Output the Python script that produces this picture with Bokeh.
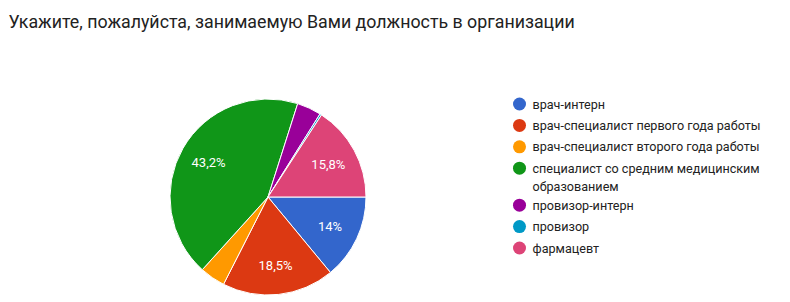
import math
from bokeh.plotting import figure
from bokeh.models import Range1d, ColumnDataSource
from bokeh.core.properties import value
from bokeh.embed import file_html
from bokeh.resources import INLINE

title = "Укажите, пожалуйста, занимаемую Вами должность в организации"
categories = [
    "врач-интерн",
    "врач-специалист первого года работы",
    "врач-специалист второго года работы",
    "специалист со средним медицинским образованием",
    "провизор-интерн",
    "провизор",
    "фармацевт",
]
legend_lines = [
    ["врач-интерн"],
    ["врач-специалист первого года работы"],
    ["врач-специалист второго года работы"],
    ["специалист со средним медицинским", "образованием"],
    ["провизор-интерн"],
    ["провизор"],
    ["фармацевт"],
]
percents = [14.0, 18.5, 4.2, 43.2, 4.0, 0.3, 15.8]
colors = ["#3366cc", "#dc3912", "#ff9900", "#109618", "#990099", "#0099c6", "#dd4477"]

W, H = 790, 302
FONT = "Roboto"

p = figure(width=W, height=H, output_backend="svg", toolbar_location=None,
           x_range=Range1d(0, W), y_range=Range1d(0, H), min_border=0)
p.axis.visible = False
p.grid.visible = False
p.outline_line_color = None
p.background_fill_color = "white"
p.border_fill_color = "white"

cx, cy, R = 267.5, H - 196.5, 98
total = sum(percents)
starts, ends, lx, ly, ltxt = [], [], [], [], []
acc = 0.0
for v in percents:
    a0 = acc / total * 2 * math.pi
    acc += v
    a1 = acc / total * 2 * math.pi
    starts.append(-a0)
    ends.append(-a1)
    if v >= 10:
        mid = (a0 + a1) / 2
        lx.append(cx + 0.7 * R * math.cos(mid))
        ly.append(cy - 0.7 * R * math.sin(mid))
        s = ("%.1f" % v).replace(".", ",")
        if s.endswith(",0"):
            s = s[:-2]
        ltxt.append(s + "%")

src = ColumnDataSource(dict(start=starts, end=ends, color=colors, cat=categories))
p.wedge(x=cx, y=cy, radius=R, start_angle="start", end_angle="end", direction="clock",
        fill_color="color", line_color="white", line_width=1, source=src)

p.text(x=lx, y=ly, text=ltxt, text_color="white", text_font=value(FONT),
       text_font_size="13px", text_align="center", text_baseline="middle")

# title
p.text(x=[8], y=[H - 21], text=[title], text_color="#222222", text_font=value(FONT),
       text_font_size="17.8px", text_align="left", text_baseline="middle")

# legend
dot_x, txt_x = 519, 532
row_y = 103.5
item_h = 21.4
wrap_h = 18.3
extra = 15.6
dx, dy, tx, ty, tt = [], [], [], [], []
for lines in legend_lines:
    dy.append(H - row_y)
    dx.append(dot_x)
    for j, ln in enumerate(lines):
        tx.append(txt_x)
        ty.append(H - row_y - j * wrap_h)
        tt.append(ln)
    row_y += item_h + extra * (len(lines) - 1)
p.scatter(x=dx, y=dy, size=13, marker="circle", fill_color=colors, line_color=None)
p.text(x=tx, y=ty, text=tt, text_color="#222222", text_font=value(FONT),
       text_font_size="12.6px", text_align="left", text_baseline="middle")

open("out.html", "w").write(file_html(p, INLINE))
